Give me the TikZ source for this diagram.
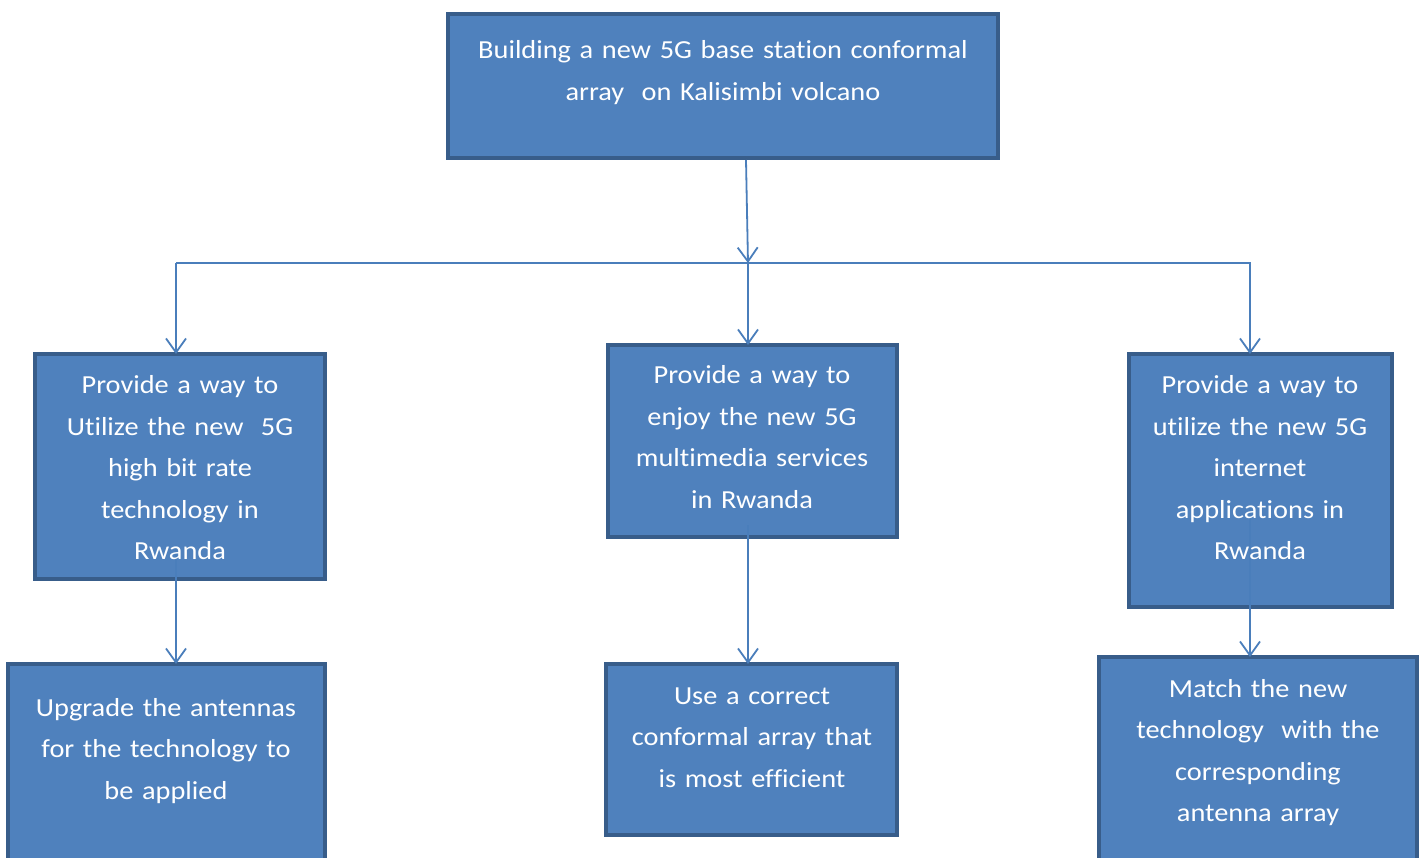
\documentclass[tikz,border=0pt]{standalone}
\usepackage{fontspec}
\setmainfont{Carlito}[Ligatures=NoCommon, FakeStretch=1.09]
\usetikzlibrary{arrows.meta}
\definecolor{boxfill}{HTML}{4F81BD}
\definecolor{boxline}{HTML}{385D8A}
\definecolor{conn}{HTML}{4A7EBB}
\begin{document}
\begin{tikzpicture}[x=1pt,y=-1pt,
 blk/.style={draw=boxline, fill=boxfill, line width=4pt, rectangle, inner sep=0pt, outer sep=0pt},
 txt/.style={text=white, font=\fontsize{26}{41.5}\selectfont, align=center, anchor=base, inner sep=0pt},
 arr/.style={draw=conn, line width=1.8pt, -{Straight Barb[length=14pt,width=20pt]}},
 ln/.style={draw=conn, line width=1.8pt}]
\useasboundingbox (0,0) rectangle (1419,858);
\clip (0,0) rectangle (1419,858);
\fill[white] (0,0) rectangle (1419,858);
% boxes
\node[blk, minimum width=550pt, minimum height=144pt] (top) at (723,86) {};
\node[blk, minimum width=290pt, minimum height=225pt] (lm) at (180,466.5) {};
\node[blk, minimum width=289pt, minimum height=192pt] (cm) at (752.5,441) {};
\node[blk, minimum width=263pt, minimum height=253pt] (rm) at (1260.5,480.5) {};
\node[blk, minimum width=317pt, minimum height=230pt] (lb) at (166.5,779) {};
\node[blk, minimum width=291pt, minimum height=171pt] (cb) at (751.5,749.5) {};
\node[blk, minimum width=318pt, minimum height=230pt] (rb) at (1258,772) {};
% connector points
\coordinate (t0) at (746,160);
\coordinate (hc) at (748,263);
\coordinate (hl) at (176,263);
\coordinate (hr) at (1251,263);
\coordinate (l0) at (176,545);
\coordinate (c0) at (748,525);
\coordinate (r0) at (1250,508);
% connectors
\draw[arr] (t0) -- (hc);
\draw[ln] (hl) -- (hr);
\draw[arr] (hl) -- (hl |- lm.north);
\draw[arr] (hc) -- (hc |- cm.north);
\draw[arr] ([xshift=-1pt]hr) -- ([xshift=-1pt]hr |- rm.north);
\draw[arr] (l0) -- (l0 |- lb.north);
\draw[arr] (c0) -- (c0 |- cb.north);
\draw[arr] (r0) -- (r0 |- rb.north);
% texts
\node[txt, text width=545pt] (topt) at (723,59) {Building a new 5G base station conformal\\array\ \ on Kalisimbi volcano};
\node[txt, text width=285pt] (lmt) at (180,394) {Provide a way to\\Utilize the new\ \ 5G\\high bit rate\\technology in\\Rwanda};
\node[txt, text width=285pt] (cmt) at (752,384) {Provide a way to\\enjoy the new 5G\\multimedia services\\in Rwanda};
\node[txt, text width=260pt] (rmt) at (1260,394) {Provide a way to\\utilize the new 5G\\internet\\applications in\\Rwanda};
\node[txt, text width=310pt] (lbt) at (166,716) {Upgrade the antennas\\for the technology to\\be applied};
\node[txt, text width=288pt] (cbt) at (752,704) {Use a correct\\conformal array that\\is most efficient};
\node[txt, text width=312pt] (rbt) at (1258,697) {Match the new\\technology\ \ with the\\corresponding\\antenna array};
\end{tikzpicture}
\end{document}
